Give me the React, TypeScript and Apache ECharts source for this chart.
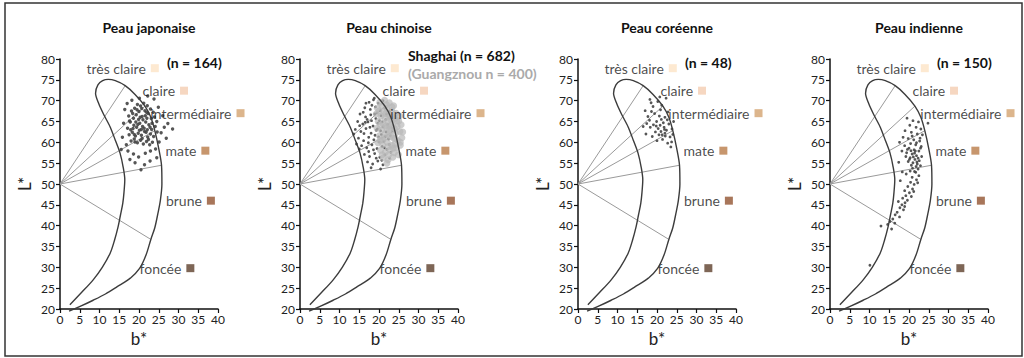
import React, { useEffect, useRef } from "react";
import * as echarts from "echarts";

const FONT = "Lato, Roboto, 'Open Sans', sans-serif";

const TITLES = ["Peau japonaise", "Peau chinoise", "Peau coréenne", "Peau indienne"];
const N_LABELS = ["(n = 164)", "Shaghai (n = 682)", "(n = 48)", "(n = 150)"];
const N_LABEL_2 = "(Guangznou n = 400)";

const X_TICKS_MIN = 0;
const X_TICKS_MAX = 40;
const Y_TICKS_MIN = 20;
const Y_TICKS_MAX = 80;

const CAT_NAMES = ["très claire", "claire", "intermédiaire", "mate", "brune", "foncée"];
const CAT_B = [24, 31.4, 45.7, 36.8, 38.2, 33];
const CAT_L = [77.8, 72.4, 67, 58, 46, 29.8];
const CAT_COLORS = ["#fde3c6", "#f4cdb2", "#d3a36f", "#b97c48", "#925431", "#5e402c"];

const ITA_ORIGIN = [0, 50];
const ITA_B = [16.5, 21.5, 24, 25.7, 23];
const ITA_L = [73.6, 68.7, 62.8, 54.5, 36.7];

const CRESCENT_B = [2.5, 5.5, 8.4, 10.7, 12.7, 13.8, 14.7, 15.3, 15.9, 16.2, 16.4, 16, 15.2, 14, 12.7, 11, 9.8, 9.0,
  9.6, 10.8, 12.2, 14,
  16.5, 19, 21.5, 23, 24, 25, 25.7, 25.8, 25.4, 24.8, 24, 23, 21.8, 20.2, 17.8, 14.4, 11.5, 8.4, 5.5, 2.3];
const CRESCENT_L = [21, 24, 27, 30, 33.4, 36.5, 39.7, 42.5, 45.4, 48, 51, 54, 57.4, 60.5, 63.7, 66.8, 69.3, 71.8,
  73.8, 74.8, 75.1, 74.8,
  73.6, 71.5, 68.7, 66, 62.8, 58.5, 54.5, 50, 46, 43, 39.5, 36.7, 33, 29.8, 27.4, 25.3, 23.6, 22.1, 20.8, 19.5];

const JP = [
  [17.4,66.3],[18.1,67.5],[18.9,68.2],[19.6,69.1],[20.4,68.7],[21.2,69.4],[22.1,68.8],[22.9,68.0],[23.6,67.2],
  [17.8,64.9],[18.6,65.8],[19.3,66.6],[20.0,67.4],[20.8,66.2],[21.5,67.6],[22.3,66.9],[23.1,65.7],[23.9,66.1],[24.5,65.0],
  [17.1,63.4],[17.9,63.0],[18.7,64.1],[19.4,63.6],[20.2,64.6],[20.9,63.8],[21.7,64.9],[22.5,64.2],[23.2,63.1],[24.1,63.8],
  [17.5,61.8],[18.3,62.4],[19.1,61.5],[19.8,62.2],[20.6,61.7],[21.4,62.6],[22.2,61.3],[22.9,62.0],[23.7,61.4],[24.6,62.5],
  [18.0,60.3],[18.8,60.8],[19.6,59.9],[20.4,60.5],[21.1,59.6],[21.9,60.2],[22.7,59.4],[23.4,60.0],
  [18.4,66.9],[19.9,65.5],[21.0,65.4],[22.0,65.8],[19.2,64.9],[20.6,63.1],[21.3,63.4],[22.1,63.0],[18.5,63.3],[20.1,62.9],
  [21.8,62.4],[19.5,67.8],[21.9,67.2],[20.7,68.1],[23.3,64.6],[19.0,60.1],[20.8,60.9],[22.4,60.7],[17.6,65.1],[18.8,61.9],
  [20.3,66.0],[21.6,66.4],[22.8,63.6],[19.7,64.3],
  [16.4,67.9],[16.1,64.6],[15.8,61.2],[16.8,59.4],[17.2,57.9],[18.6,57.2],[19.9,56.5],[21.6,57.4],[22.9,57.9],[24.2,58.4],
  [25.1,60.1],[25.6,62.3],[26.4,63.6],[27.3,64.5],[28.5,63.2],[26.0,66.4],[24.9,68.4],[23.8,70.4],[22.2,71.1],[20.1,70.6],
  [18.2,70.1],[19.0,55.1],[21.4,54.6],[17.7,55.9],[22.8,55.5],[20.5,53.4],[24.5,56.3],[26.9,61.0],[15.5,58.3],[17.0,69.3]
];

const CN_SH = [
  [17.5,69.6],[18.6,70.2],[19.8,69.4],[21.0,70.0],[16.4,68.3],[17.8,67.9],[19.1,68.5],[20.3,67.6],[21.5,68.2],[22.6,67.4],
  [15.2,66.8],[16.6,66.1],[17.9,66.6],[19.2,65.7],[20.5,66.4],[21.7,65.5],[22.9,66.0],[14.6,65.0],[15.9,64.4],[17.2,64.9],
  [18.5,63.9],[19.7,64.6],[21.0,63.7],[22.2,64.3],[23.3,63.5],
  [14.0,63.1],[15.4,62.6],[16.7,63.3],[18.0,62.2],[19.3,62.9],[20.6,61.9],[21.8,62.5],[22.9,61.6],[14.8,61.0],[16.1,60.4],
  [17.4,61.2],[18.7,60.6],[19.9,61.3],[21.2,60.2],[22.4,60.8],
  [15.6,59.2],[16.9,58.7],[18.2,59.4],[19.5,58.5],[20.8,59.0],[22.0,58.3],[16.3,57.1],[17.6,56.6],[18.9,57.3],[20.2,56.4],
  [21.5,57.0],[22.7,56.2],[17.1,55.3],[18.4,54.8],[19.7,55.5],[21.0,54.6],[20.4,53.6],[18.0,53.9],
  [16.0,67.2],[18.2,68.9],[17.0,65.5],[18.9,66.8],[20.1,65.2],[16.2,62.1],[17.7,63.6],[19.0,61.7],[20.4,62.8],[21.6,61.4],
  [15.1,64.0],[17.3,59.9],[18.6,58.2],[20.0,60.1],[21.4,58.7],[19.3,56.2],[16.5,64.8],[18.1,65.2],[19.6,63.2],[17.4,57.8],
  [15.0,58.4],[13.6,62.0],[14.3,59.6],[16.7,69.4],[20.8,64.9],[19.5,67.1],[21.9,66.8],[22.6,59.5],[23.0,57.6],[20.7,55.7],
  [23.4,62.8],[18.8,70.6]
];

const CN_GZ = [
  [20.2,69.6],[21.4,70.1],[22.6,69.5],[23.7,68.8],[19.6,68.2],[20.8,68.7],[22.0,68.1],[23.2,67.6],[24.3,67.0],
  [19.3,66.8],[20.5,66.3],[21.7,66.9],[22.9,66.2],[24.0,65.7],[25.0,65.1],[19.8,65.0],[21.0,64.5],[22.2,65.1],[23.4,64.4],
  [24.6,63.8],[25.6,64.2],
  [19.5,63.4],[20.7,62.9],[21.9,63.5],[23.1,62.8],[24.2,62.2],[25.3,62.6],[20.1,61.6],[21.3,61.1],[22.5,61.7],[23.7,61.0],
  [24.8,60.4],[25.8,61.1],
  [19.7,59.9],[20.9,59.4],[22.1,60.0],[23.3,59.3],[24.4,58.7],[25.4,59.3],[20.4,58.1],[21.6,57.6],[22.8,58.2],[23.9,57.5],
  [24.9,57.0],[21.1,56.3],[22.3,55.8],[23.5,56.4],[22.0,55.0],
  [20.0,67.5],[21.2,67.4],[22.4,66.6],[23.6,66.0],[21.5,65.8],[22.7,64.0],[23.9,63.3],[20.4,64.1],[21.6,62.2],[22.9,61.4],
  [24.1,60.9],[21.0,60.6],[22.3,59.0],[23.6,58.6],[20.8,57.0],[24.5,65.2],[25.4,60.0],[22.7,63.2],[21.8,64.0],[23.0,65.5],
  [20.3,60.5],[24.0,59.6],[22.5,57.1],[26.0,62.5],[25.2,66.3],[23.3,68.5],[21.9,69.0]
];

const KR = [
  [18.2,70.3],[19.0,68.6],[21.2,68.9],[20.2,69.8],[22.3,70.6],[17.7,66.2],[18.6,67.4],[19.9,65.0],[20.6,66.3],[21.6,64.7],
  [22.0,66.0],[22.8,67.3],[16.5,63.8],[17.4,64.5],[18.3,63.6],[19.1,64.2],[20.3,63.3],[21.0,62.6],[21.8,63.6],[22.4,62.9],
  [23.0,64.4],[23.3,61.3],[23.7,60.1],[22.1,61.5],[21.4,60.7],[20.5,61.8],[19.6,62.5],[18.8,61.4],[17.2,62.0],[23.8,63.2],
  [24.2,65.0],[20.9,67.8],[19.4,66.9],[18.1,65.3],[22.6,65.4],[21.1,65.5],[20.0,60.4],[22.7,59.8],[23.5,58.9],[18.5,69.5],
  [20.7,70.9],[17.0,67.6],[21.9,63.1],[19.8,63.9],[20.8,64.1],[22.0,62.2],[21.3,61.8],[24.0,61.9]
];

const IN = [
  [19.5,65.8],[21.0,65.2],[22.4,64.9],[24.8,64.6],[20.2,64.1],[21.8,63.6],[23.0,63.2],[19.0,62.8],[20.6,62.4],[22.1,62.0],
  [23.4,61.8],[18.5,61.2],[19.8,60.9],[21.2,60.6],[22.7,60.3],[20.4,59.7],[21.7,59.4],[23.1,59.0],[18.9,59.2],[17.6,60.0],
  [20.0,58.6],[21.3,58.2],[22.5,57.9],[19.4,57.5],[20.8,57.2],[21.9,56.8],[23.2,56.6],[20.3,56.3],[21.5,55.9],[22.6,55.6],
  [19.8,55.4],[21.0,55.1],[22.1,54.8],[20.6,54.5],[21.8,54.2],[20.9,53.8],[22.3,53.6],[19.2,56.6],[18.2,57.9],[17.4,55.2],
  [22.9,58.6],[21.4,57.4],[20.1,55.9],[21.1,56.5],[22.0,55.3],[21.6,57.9],[22.3,56.2],[20.5,58.0],[21.9,59.9],[20.8,61.5],
  [22.8,61.0],[19.6,58.3],[20.3,53.1],[21.4,53.0],[22.9,54.4],
  [21.7,52.8],[22.5,52.0],[20.8,51.6],[19.3,52.4],[21.9,51.0],[20.4,50.4],[21.3,49.9],[19.7,49.4],[20.9,48.8],[18.9,48.4],
  [20.1,47.9],[19.2,47.2],[18.4,46.6],[19.6,46.1],[21.2,48.2],[22.2,50.3],[17.8,50.8],[18.3,52.9],[20.6,47.0],[19.0,45.5],
  [18.2,45.0],[17.7,44.3],[18.6,43.8],[17.0,43.2],[16.5,42.6],[17.6,42.1],[15.9,41.6],[15.2,41.0],[16.4,40.6],[14.6,40.3],
  [12.9,39.9],[15.6,39.2],[18.9,44.6],[17.3,45.8],[10.1,30.5]
];

const GRID_LEFTS = [60, 300, 578, 830];
const GRID_TOP = 59;
const GRID_W = 158;
const GRID_H = 250;

function buildOption() {
  const grids: any[] = [];
  const xAxes: any[] = [];
  const yAxes: any[] = [];
  const series: any[] = [];
  const graphics: any[] = [];

  const crescent = CRESCENT_B.map((b, i) => [b, CRESCENT_L[i]]);
  const itaLines = ITA_B.map((b, i) => ({ coords: [ITA_ORIGIN, [b, ITA_L[i]]] }));
  const cats = CAT_NAMES.map((n, i) => ({ name: n, value: [CAT_B[i], CAT_L[i]], itemStyle: { color: CAT_COLORS[i] } }));
  const panels = [[JP], [CN_SH, CN_GZ], [KR], [IN]];

  GRID_LEFTS.forEach((left, i) => {
    grids.push({ left, top: GRID_TOP, width: GRID_W, height: GRID_H });
    xAxes.push({
      gridIndex: i, type: "value", min: X_TICKS_MIN, max: X_TICKS_MAX, interval: 5,
      name: "b*", nameLocation: "middle", nameGap: 21,
      nameTextStyle: { fontFamily: FONT, fontSize: 17, color: "#222" },
      axisLine: { lineStyle: { color: "#111", width: 1.5 } },
      axisTick: { length: 4, lineStyle: { color: "#111", width: 1.2 } },
      axisLabel: { fontFamily: FONT, fontSize: 12, color: "#222", margin: 4 },
      splitLine: { show: false },
    });
    yAxes.push({
      gridIndex: i, type: "value", min: Y_TICKS_MIN, max: Y_TICKS_MAX, interval: 5,
      name: "L*", nameLocation: "middle", nameGap: 27, nameRotate: 90,
      nameTextStyle: { fontFamily: FONT, fontSize: 17, color: "#222" },
      axisLine: { show: true, lineStyle: { color: "#111", width: 1.5 } },
      axisTick: { show: true, length: 4, lineStyle: { color: "#111", width: 1.2 } },
      axisLabel: { fontFamily: FONT, fontSize: 12, color: "#222", margin: 5 },
      splitLine: { show: false },
    });
    series.push({
      type: "lines", coordinateSystem: "cartesian2d", xAxisIndex: i, yAxisIndex: i,
      data: itaLines, silent: true, symbol: "none",
      lineStyle: { color: "#9a9a9a", width: 1, opacity: 1 },
    });
    series.push({
      type: "line", xAxisIndex: i, yAxisIndex: i, data: crescent, smooth: 0.3,
      symbol: "none", clip: false, silent: true,
      lineStyle: { color: "#3c3c3c", width: 1.4 },
    });
    panels[i].forEach((pts, k) => {
      const gray = i === 1 && k === 1;
      series.push({
        type: "scatter", xAxisIndex: i, yAxisIndex: i, data: pts,
        symbolSize: gray ? 7 : (i === 0 ? 3.4 : 2.8), silent: true,
        itemStyle: { color: gray ? "#b8b8b8" : "#444", opacity: gray ? 0.7 : 0.9 },
      });
    });
    series.push({
      type: "scatter", xAxisIndex: i, yAxisIndex: i, data: cats, symbol: "rect",
      symbolSize: 8, clip: false, silent: true,
      label: {
        show: true, position: "left", distance: 5, formatter: "{b}",
        fontFamily: FONT, fontSize: 14, color: "#1a1a1a",
      },
    });
    graphics.push({
      type: "text", x: left + 89, y: 27,
      style: { text: TITLES[i], font: `bold 14px ${FONT}`, fill: "#111", textAlign: "center", textVerticalAlign: "middle", align: "center", verticalAlign: "middle" },
    });
    graphics.push({
      type: "text", x: left + (i === 1 ? 108 : 107), y: i === 1 ? 55 : 62,
      style: { text: N_LABELS[i], font: `bold 14px ${FONT}`, fill: "#111", textAlign: "left", textVerticalAlign: "middle", align: "left", verticalAlign: "middle" },
    });
  });
  graphics.push({
    type: "text", x: GRID_LEFTS[1] + 108, y: 73,
    style: { text: N_LABEL_2, font: `bold 14px ${FONT}`, fill: "#aaaaaa", textAlign: "left", textVerticalAlign: "middle", align: "left", verticalAlign: "middle" },
  });
  graphics.push({
    type: "rect", shape: { x: 5, y: 3, width: 1017, height: 353 },
    style: { fill: "none", stroke: "#333", lineWidth: 1.5 }, silent: true,
  });

  return {
    animation: false,
    backgroundColor: "#ffffff",
    grid: grids, xAxis: xAxes, yAxis: yAxes, series, graphic: graphics,
  };
}

export default function App() {
  const ref = useRef<HTMLDivElement>(null);
  useEffect(() => {
    if (!ref.current) return;
    const chart = echarts.init(ref.current, undefined, { renderer: "svg" });
    chart.setOption(buildOption() as any);
    return () => chart.dispose();
  }, []);
  return <div ref={ref} style={{ position: "fixed", left: 0, top: 0, width: 1024, height: 358 }} />;
}
